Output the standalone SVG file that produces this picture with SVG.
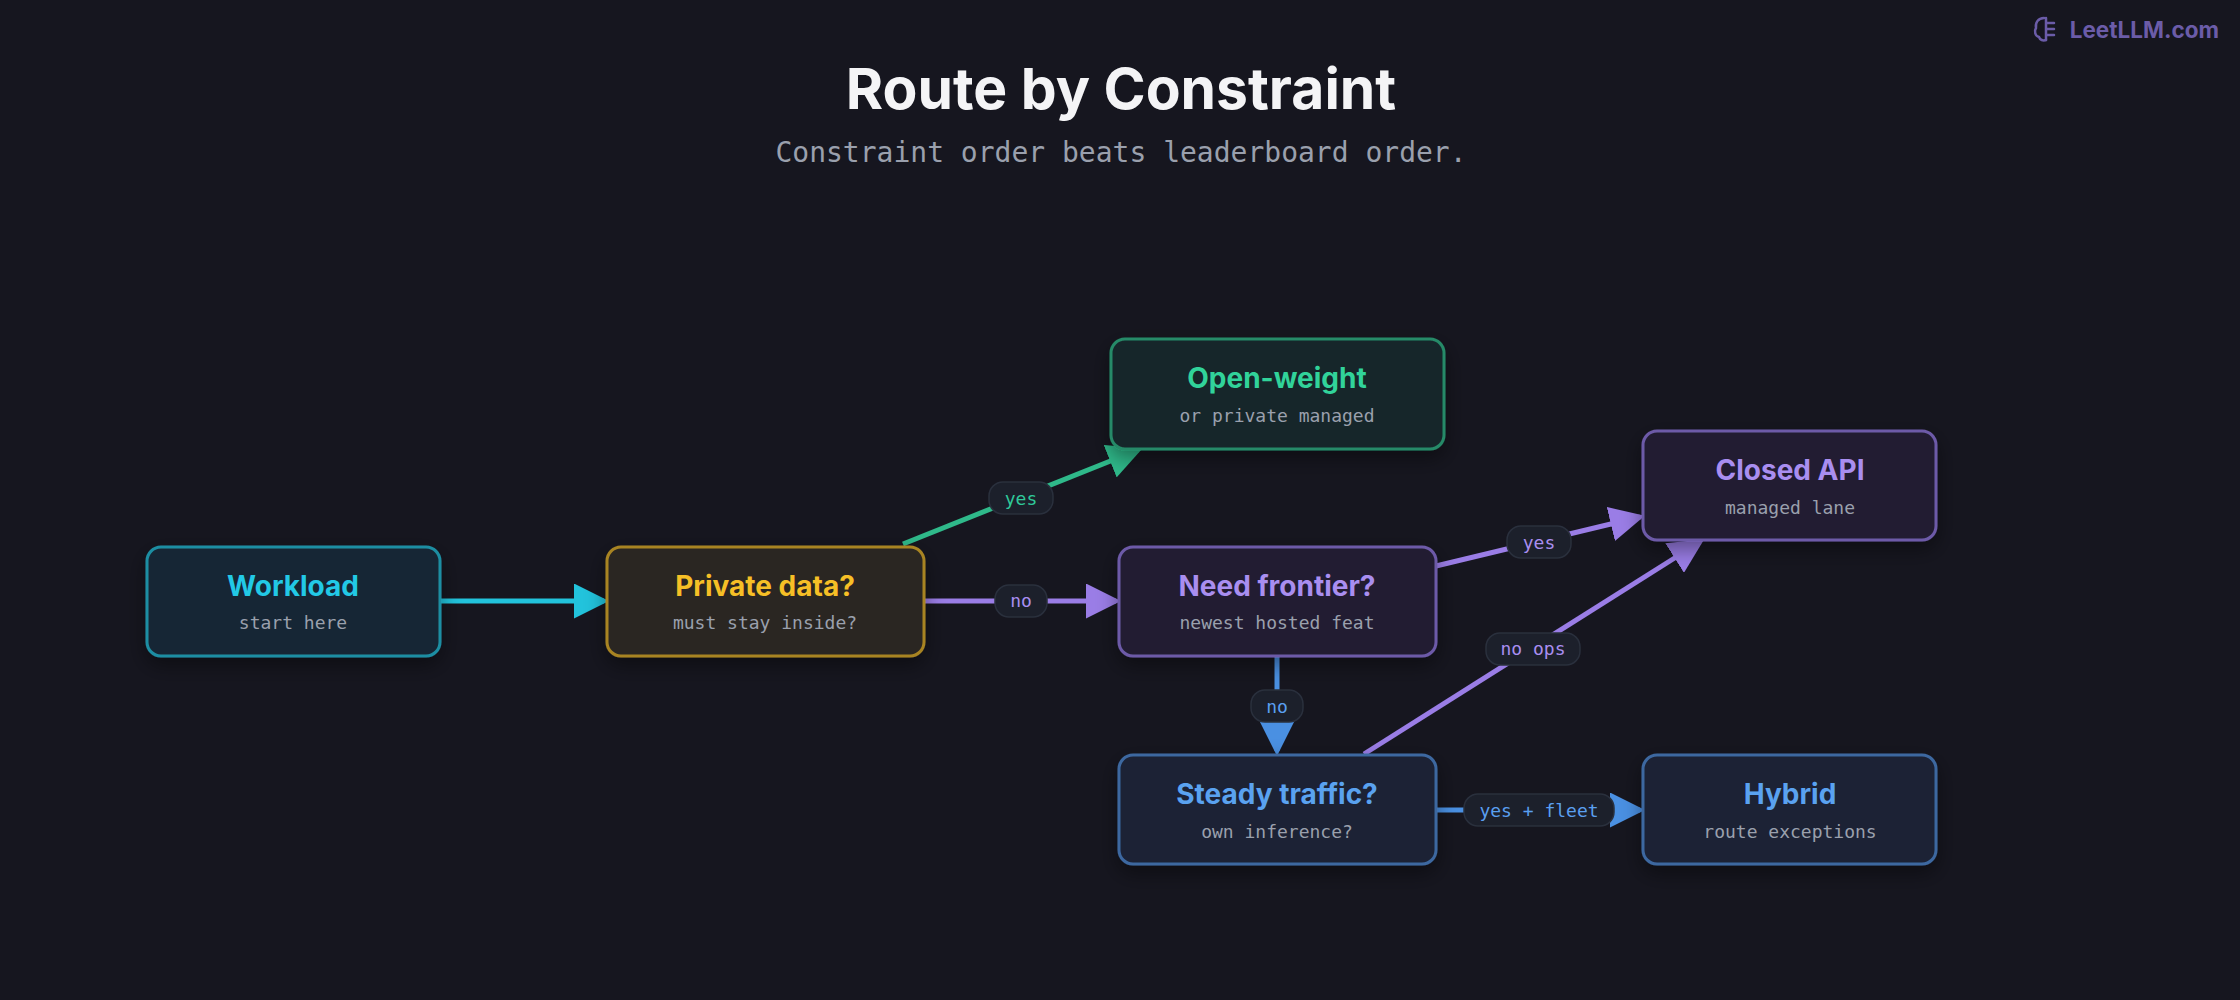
<svg xmlns="http://www.w3.org/2000/svg" width="2240" height="1000" viewBox="0 0 2240 1000">
<defs>
<style>
.t{font-family:Inter,"Noto Sans",sans-serif;font-weight:700;text-anchor:middle}
.m{font-family:"DejaVu Sans Mono","Liberation Mono",monospace;text-anchor:middle}
.sub{font-size:18px;fill:#9aa0ad}
.nt{font-size:28px}
.pill{fill:#1c202b;stroke:#2a303d;stroke-width:1.5}
.pl{font-size:18px}
.e{fill:none;stroke-width:5}
</style>
<filter id="sh" x="-20%" y="-20%" width="140%" height="160%"><feDropShadow dx="0" dy="8" stdDeviation="10" flood-color="#000" flood-opacity="0.4"/></filter>
<marker id="ac" markerWidth="7" markerHeight="7" refX="6" refY="3.5" orient="auto" markerUnits="strokeWidth"><path d="M0,0L7,3.5L0,7z" fill="#22c3dc"/></marker>
<marker id="ap" markerWidth="7" markerHeight="7" refX="6" refY="3.5" orient="auto" markerUnits="strokeWidth"><path d="M0,0L7,3.5L0,7z" fill="#9a7de6"/></marker>
<marker id="ag" markerWidth="7" markerHeight="7" refX="6" refY="3.5" orient="auto" markerUnits="strokeWidth"><path d="M0,0L7,3.5L0,7z" fill="#2fb98a"/></marker>
<marker id="ab" markerWidth="7" markerHeight="7" refX="6" refY="3.5" orient="auto" markerUnits="strokeWidth"><path d="M0,0L7,3.5L0,7z" fill="#4a90e2"/></marker>
</defs>
<rect width="2240" height="1000" fill="#16161f"/>
<g id="logo" fill="none" stroke="#6b5ca8" stroke-width="2.5" stroke-linecap="round">
<path d="M2044,18c-6,0-9,5-8,10c-2,3-1,8,3,9c1,3,4,4,7,3"/>
<path d="M2046,18v22M2046,23h8M2046,29h8M2046,35h8"/>
</g>
<text x="2219" y="38" font-family="Inter,sans-serif" font-weight="700" font-size="22.5" fill="#6b5ca8" text-anchor="end">LeetLLM.com</text>
<text x="1121" y="109" class="t" font-size="57" fill="#f4f4f6">Route by Constraint</text>
<text x="1121" y="162" class="m" font-size="28" fill="#9aa0ad">Constraint order beats leaderboard order.</text>

<g id="connectors">
<path class="e" d="M440,601H604" stroke="#22c3dc" marker-end="url(#ac)"/>
<path class="e" d="M924,601H1116" stroke="#9a7de6" marker-end="url(#ap)"/>
<path class="e" d="M903,544L1138,450" stroke="#2fb98a" marker-end="url(#ag)"/>
<path class="e" d="M1436,566L1640,517" stroke="#9a7de6" marker-end="url(#ap)"/>
<path class="e" d="M1277,656V751" stroke="#4a90e2" marker-end="url(#ab)"/>
<path class="e" d="M1364,754L1700,542" stroke="#9a7de6" marker-end="url(#ap)"/>
<path class="e" d="M1436,810H1640" stroke="#4a90e2" marker-end="url(#ab)"/>
<rect class="pill" x="995" y="585" width="52" height="32" rx="14"/><text x="1021" y="607" class="m pl" fill="#a98ef0">no</text>
<rect class="pill" x="989" y="482" width="64" height="32" rx="14"/><text x="1021" y="505" class="m pl" fill="#2fc99a">yes</text>
<rect class="pill" x="1507" y="526" width="64" height="32" rx="14"/><text x="1539" y="549" class="m pl" fill="#a98ef0">yes</text>
<rect class="pill" x="1251" y="690" width="52" height="32" rx="14"/><text x="1277" y="713" class="m pl" fill="#5a9ff0">no</text>
<rect class="pill" x="1486" y="633" width="94" height="32" rx="14"/><text x="1533" y="655" class="m pl" fill="#a98ef0">no ops</text>
<rect class="pill" x="1464" y="794" width="150" height="32" rx="14"/><text x="1539" y="817" class="m pl" fill="#5a9ff0">yes + fleet</text>
</g>

<g id="workload"><rect x="147" y="547" width="293" height="109" rx="14" fill="#182835" stroke="#1f8ea3" stroke-width="3" filter="url(#sh)"/><text x="293" y="596" class="t nt" fill="#22c9e6">Workload</text><text x="293" y="629" class="m sub">start here</text></g>
<g id="private"><rect x="607" y="547" width="317" height="109" rx="14" fill="#2a2620" stroke="#a88424" stroke-width="3" filter="url(#sh)"/><text x="765" y="596" class="t nt" fill="#f6bf26">Private data?</text><text x="765" y="629" class="m sub">must stay inside?</text></g>
<g id="open"><rect x="1111" y="339" width="333" height="110" rx="14" fill="#19272c" stroke="#258a67" stroke-width="3" filter="url(#sh)"/><text x="1277" y="388" class="t nt" fill="#31d39a">Open-weight</text><text x="1277" y="422" class="m sub">or private managed</text></g>
<g id="frontier"><rect x="1119" y="547" width="317" height="109" rx="14" fill="#221f33" stroke="#6d5aa8" stroke-width="3" filter="url(#sh)"/><text x="1277" y="596" class="t nt" fill="#a98ef0">Need frontier?</text><text x="1277" y="629" class="m sub">newest hosted feat</text></g>
<g id="closed"><rect x="1643" y="431" width="293" height="109" rx="14" fill="#221f33" stroke="#6d5aa8" stroke-width="3" filter="url(#sh)"/><text x="1790" y="480" class="t nt" fill="#a98ef0">Closed API</text><text x="1790" y="514" class="m sub">managed lane</text></g>
<g id="steady"><rect x="1119" y="755" width="317" height="109" rx="14" fill="#1b2235" stroke="#3d68a0" stroke-width="3" filter="url(#sh)"/><text x="1277" y="804" class="t nt" fill="#5aa2f0">Steady traffic?</text><text x="1277" y="838" class="m sub">own inference?</text></g>
<g id="hybrid"><rect x="1643" y="755" width="293" height="109" rx="14" fill="#1b2235" stroke="#3d68a0" stroke-width="3" filter="url(#sh)"/><text x="1790" y="804" class="t nt" fill="#5aa2f0">Hybrid</text><text x="1790" y="838" class="m sub">route exceptions</text></g>
</svg>
